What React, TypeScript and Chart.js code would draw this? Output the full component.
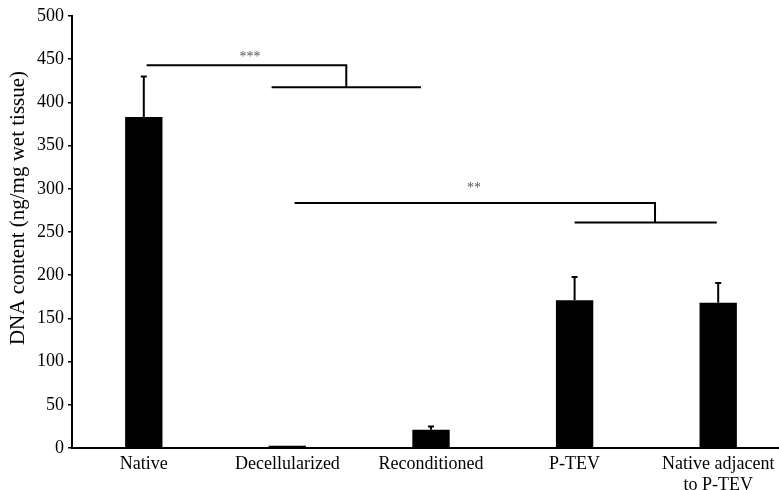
import React, { useEffect, useRef } from "react";
import { Chart, registerables } from "chart.js";

Chart.register(...registerables);

const categories: (string | string[])[] = [
  "Native",
  "Decellularized",
  "Reconditioned",
  "P-TEV",
  ["Native adjacent", "to P-TEV"],
];
const means = [383, 2.5, 21, 171, 168];
const errors = [47, 0, 4, 27, 23];
const yTicksMax = 500;
const yTickStep = 50;
const yTitle = "DNA content (ng/mg wet tissue)";

// Significance brackets: upper line [x1,x2] at y1, drop at x2 to y2, lower line [x3,x4] at y2 (x in category index units)
const bracketLabels = ["***", "**"];
const bracketUpper = [
  [0.02, 1.41, 443],
  [1.05, 3.56, 283.5],
];
const bracketLower = [
  [0.89, 1.93, 417.5],
  [3.0, 3.99, 261],
];
const bracketText = [
  [0.74, 452],
  [2.3, 300],
];

const FONT = "'Liberation Serif', 'Times New Roman', serif";

const overlayPlugin = {
  id: "overlay",
  afterDatasetsDraw(chart: any) {
    const { ctx, chartArea } = chart;
    const xs = chart.scales.x;
    const ys = chart.scales.y;
    const cw = xs.getPixelForValue(1) - xs.getPixelForValue(0);
    const px = (i: number) => xs.getPixelForValue(0) + i * cw;
    ctx.save();
    ctx.strokeStyle = "#000";
    ctx.lineWidth = 2;
    ctx.lineCap = "butt";
    // error bars
    means.forEach((m, i) => {
      const e = errors[i];
      if (!e) return;
      const x = xs.getPixelForValue(i);
      const yt = ys.getPixelForValue(m + e);
      const yb = ys.getPixelForValue(m);
      ctx.beginPath();
      ctx.moveTo(x, yb);
      ctx.lineTo(x, yt);
      ctx.moveTo(x - 3, yt);
      ctx.lineTo(x + 3, yt);
      ctx.stroke();
    });
    // brackets
    bracketUpper.forEach((u, k) => {
      const l = bracketLower[k];
      const y1 = ys.getPixelForValue(u[2]);
      const y2 = ys.getPixelForValue(l[2]);
      ctx.beginPath();
      ctx.moveTo(px(u[0]), y1);
      ctx.lineTo(px(u[1]), y1);
      ctx.lineTo(px(u[1]), y2);
      ctx.stroke();
      ctx.beginPath();
      ctx.moveTo(px(l[0]), y2);
      ctx.lineTo(px(l[1]), y2);
      ctx.stroke();
      const t = bracketText[k];
      ctx.fillStyle = "#555";
      ctx.font = `14px ${FONT}`;
      ctx.textAlign = "center";
      ctx.textBaseline = "middle";
      ctx.fillText(bracketLabels[k], px(t[0]), ys.getPixelForValue(t[1]));
    });
    // y-axis title
    ctx.save();
    ctx.translate(18, 208);
    ctx.rotate(-Math.PI / 2);
    ctx.fillStyle = "#000";
    ctx.font = `21px ${FONT}`;
    ctx.textAlign = "center";
    ctx.textBaseline = "middle";
    ctx.fillText(yTitle, 0, 0);
    ctx.restore();
    ctx.restore();
  },
};

export default function App() {
  const ref = useRef<HTMLCanvasElement>(null);
  useEffect(() => {
    document.body.style.margin = "0";
    const chart = new Chart(ref.current!, {
      type: "bar",
      data: {
        labels: categories,
        datasets: [
          {
            data: means,
            backgroundColor: "#000",
            borderWidth: 0,
            barPercentage: 0.26,
            categoryPercentage: 1,
          },
        ],
      },
      options: {
        animation: false,
        responsive: false,
        maintainAspectRatio: false,
        layout: { padding: { top: 16, left: 0, right: 0, bottom: 0 } },
        plugins: { legend: { display: false }, tooltip: { enabled: false } },
        scales: {
          x: {
            offset: true,
            afterFit: (s: any) => {
              s.height = 42;
            },
            grid: { display: false, drawTicks: false },
            border: { display: true, color: "#000", width: 2 },
            ticks: {
              color: "#000",
              font: { family: FONT, size: 18, lineHeight: 1.2 },
              padding: 5,
              maxRotation: 0,
              autoSkip: false,
            },
          },
          y: {
            min: 0,
            max: yTicksMax,
            afterFit: (s: any) => {
              s.width = 72;
            },
            grid: {
              drawOnChartArea: false,
              drawTicks: true,
              tickLength: 4,
              color: "#000",
              lineWidth: 1.5,
            },
            border: { display: true, color: "#000", width: 2 },
            ticks: {
              stepSize: yTickStep,
              color: "#000",
              font: { family: FONT, size: 18 },
              padding: 4,
            },
          },
        },
      },
      plugins: [overlayPlugin],
    });
    return () => chart.destroy();
  }, []);
  return (
    <div
      style={{
        position: "fixed",
        left: 0,
        top: 0,
        width: 779,
        height: 490,
        overflow: "hidden",
        background: "#fff",
      }}
    >
      <canvas ref={ref} width={790} height={490} style={{ display: "block" }} />
    </div>
  );
}
